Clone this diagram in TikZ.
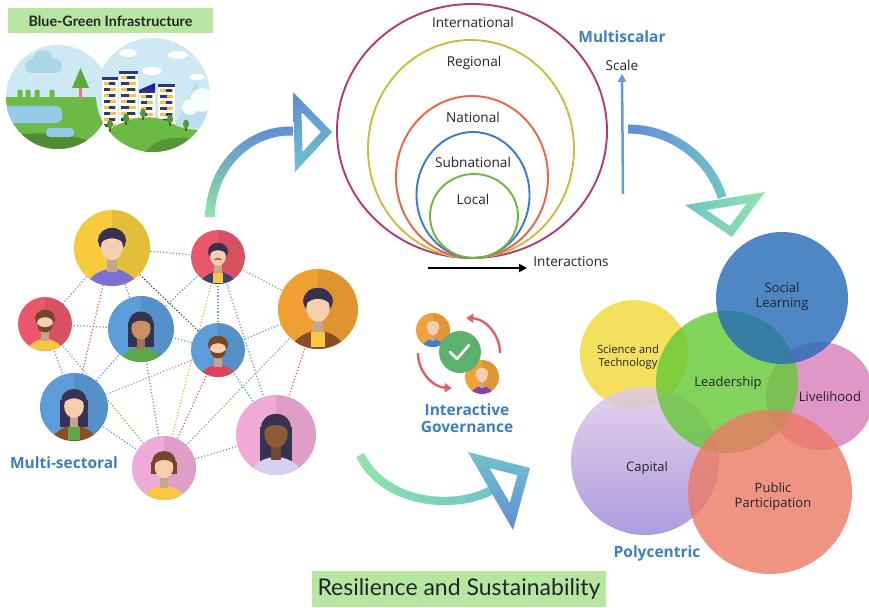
\documentclass[tikz,border=0pt]{standalone}
\usepackage{fontspec}
\setmainfont{Open Sans}
\newfontfamily\gillfont{Lato}
\usetikzlibrary{arrows.meta,positioning}
\definecolor{bannergreen}{RGB}{182,230,160}
\definecolor{tagblue}{RGB}{61,126,194}
\definecolor{scaleblue}{RGB}{96,156,214}
\definecolor{inkdark}{RGB}{35,35,45}
% rings
\definecolor{intl}{RGB}{178,58,122}
\definecolor{regl}{RGB}{200,190,62}
\definecolor{natl}{RGB}{234,98,78}
\definecolor{subn}{RGB}{58,122,200}
\definecolor{locl}{RGB}{112,182,64}
% flows
\definecolor{flowgreen}{RGB}{145,228,168}
\definecolor{flowteal}{RGB}{112,196,202}
\definecolor{flowblue}{RGB}{96,140,214}
\definecolor{swirlred}{RGB}{232,92,104}
\definecolor{tickgreen}{RGB}{92,178,108}
\definecolor{iconorange}{RGB}{240,162,58}
% petals
\definecolor{vsci}{RGB}{242,217,52}
\definecolor{vlead}{RGB}{98,200,52}
\definecolor{vsoc}{RGB}{35,105,182}
\definecolor{vliv}{RGB}{215,125,185}
\definecolor{vpub}{RGB}{236,120,100}
\definecolor{vcaptop}{RGB}{226,202,232}
\definecolor{vcapbot}{RGB}{158,140,218}
% people
\definecolor{bgyellow}{RGB}{246,204,62}
\definecolor{bgred}{RGB}{232,88,106}
\definecolor{bgorange}{RGB}{240,160,50}
\definecolor{bgblue}{RGB}{92,156,216}
\definecolor{bgpink}{RGB}{240,170,216}
\definecolor{hairdark}{RGB}{54,50,82}
\definecolor{hairbrown}{RGB}{118,70,40}
\definecolor{skinlight}{RGB}{248,206,176}
\definecolor{skintan}{RGB}{200,145,100}
\definecolor{skindark}{RGB}{140,92,55}
\definecolor{shirtpurple}{RGB}{124,112,210}
\definecolor{shirtnavy}{RGB}{66,66,104}
\definecolor{shirtbrown}{RGB}{140,76,36}
\definecolor{shirtyellow}{RGB}{246,200,66}
\definecolor{shirtgreen}{RGB}{92,168,72}
\definecolor{shirtred}{RGB}{224,68,88}
\definecolor{shirtlilac}{RGB}{214,208,240}
\definecolor{shirtblue}{RGB}{60,130,196}
\definecolor{shirtviolet}{RGB}{130,70,170}
\definecolor{lblue}{RGB}{90,150,210}
\definecolor{lred}{RGB}{220,90,100}
\definecolor{lgreen}{RGB}{120,180,90}
\definecolor{lyellow}{RGB}{200,190,60}
\definecolor{lblack}{RGB}{60,60,60}
\definecolor{lpink}{RGB}{220,120,170}
% landscape
\definecolor{sky}{RGB}{206,233,244}
\definecolor{cloudblue}{RGB}{170,214,234}
\definecolor{grass}{RGB}{108,186,70}
\definecolor{pond}{RGB}{146,204,232}
\definecolor{winyellow}{RGB}{246,196,66}
\definecolor{winnavy}{RGB}{48,56,112}
\tikzset{
  >={Triangle[length=8pt,width=8pt]},
  banner/.style={fill=bannergreen,inner sep=0pt,minimum height=25pt,
    font=\gillfont\bfseries\fontsize{14.3}{16}\selectfont,text=inkdark},
  tag/.style={font=\fontsize{13.6}{16}\selectfont,text=inkdark,align=center},
  keytag/.style={font=\bfseries\fontsize{15.5}{17}\selectfont,text=tagblue,align=center},
  vtag/.style={font=\fontsize{13}{15}\selectfont,text=inkdark,align=center},
  ring/.style={draw=#1,line width=1.9pt},
  link/.style={draw=#1,dotted,line width=1.2pt},
  petal/.style={fill=#1,fill opacity=0.8},
  swirl/.style={-{Triangle[length=7pt,width=9pt]},draw=swirlred,line width=2.4pt},
  % avatars (y grows downwards)
  pics/avatar/.style n args={5}{code={
    \fill[#1] (0,0) circle (1);
    \begin{scope}
      \clip (0,0) circle (1);
      \fill[black,opacity=0.07] (0,-1) rectangle (1,1);
      \fill[#2] (-0.4,-0.2) rectangle (0.4,#5);
      \fill[#2] (0,-0.2) ellipse (0.37 and 0.33);
      \fill[#4] (0,1.4) ellipse (0.8 and 0.85);
      \fill[#3!80!black] (-0.13,0.1) rectangle (0.13,0.62);
      \fill[#3] (0,-0.02) ellipse (0.29 and 0.34);
      \fill[#2] (-0.31,-0.12) .. controls (-0.3,-0.62) and (0.3,-0.62) .. (0.31,-0.12)
        .. controls (0.15,-0.3) and (-0.15,-0.3) .. cycle;
    \end{scope}
  }},
  pics/vest/.style={code={\fill[#1] (-0.17,0.58) rectangle (0.17,0.96);}},
  pics/beard/.style={code={
    \fill[#1] (-0.29,0.0) .. controls (-0.29,0.42) and (0.29,0.42) .. (0.29,0.0)
      .. controls (0.15,0.16) and (-0.15,0.16) .. cycle;
  }},
  pics/moustache/.style={code={
    \fill[#1] (-0.16,0.12) .. controls (-0.08,0.02) and (0.08,0.02) .. (0.16,0.12)
      .. controls (0.08,0.08) and (-0.08,0.08) .. cycle;
  }},
}
\begin{document}
\begin{tikzpicture}[x=1pt,y=-1pt]
  \fill[white] (0,0) rectangle (869,607);
  \useasboundingbox (0,0) rectangle (869,607);

  % blue-green infrastructure
  \node[banner,minimum width=205pt] (bgi) at (110.5,21) {Blue-Green Infrastructure};
  \begin{scope}
    \clip (58,97) circle (52);
    \fill[sky] (0,40) rectangle (115,155);
    \fill[cloudblue] (32,66) circle (7) (43,60) circle (10) (55,66) circle (7);
    \fill[cloudblue] (30,66) rectangle (58,73);
    \fill[grass] (0,97) rectangle (115,155);
    \foreach \px in {20,28,37,52} \fill[grass,rounded corners=1pt] (\px-2.5,90) rectangle (\px+2.5,98);
    \fill[grass!75!black] (0,138) .. controls (40,128) and (80,135) .. (115,150) -- (115,155) -- (0,155) -- cycle;
    \fill[pond,rounded corners=6pt] (-5,106) rectangle (62,123);
    \fill[pond,rounded corners=4pt] (46,128) rectangle (74,137);
    \fill[lred!80] (79,84) rectangle (82,99);
    \fill[grass!90!black] (80.5,68) -- (72,88) -- (89,88) -- cycle;
  \end{scope}
  \begin{scope}
    \clip (153,95) circle (57);
    \fill[sky] (90,30) rectangle (215,160);
    \fill[white] (128,53) ellipse (9 and 4) (178,55) ellipse (10 and 4) (152,71) ellipse (10 and 4) (197,77) ellipse (8 and 3);
    \fill[cloudblue!80] (175,125) -- (196,82) -- (215,110) -- (215,130) -- cycle;
    \fill[white!85!sky] (202,100) circle (12) (190,107) circle (8);
    \foreach \bx/\by/\bw in {102/77/16,119/71/19,139/90/16,158/84/17}{
      \fill[white] (\bx,\by) rectangle (\bx+\bw,140);
      \fill[winnavy] (\bx,\by) rectangle (\bx+\bw,\by+3);
      \foreach \row in {1,...,10}{
        \fill[winyellow] (\bx+2,\by+6*\row-1) rectangle (\bx+\bw-2,\by+6*\row+1.6);
        \fill[winnavy] ({\bx+2+mod(\row,2)*\bw/3},{\by+6*\row-1}) rectangle ({\bx+\bw/2+mod(\row,2)*\bw/3},{\by+6*\row+1.6});
      }
    }
    \fill[winnavy!60!blue] (139,90) -- (155,83) -- (155,90) -- cycle;
    \fill[grass] (96,140) .. controls (120,118) and (150,110) .. (175,125) .. controls (190,132) and (205,128) .. (215,135) -- (215,160) -- (96,160) -- cycle;
    \fill[grass!80!black] (140,160) .. controls (150,140) and (170,134) .. (195,140) -- (195,160) -- cycle;
    \foreach \tx/\ty in {110/124,126/118,143/113,170/119,186/124}{
      \fill[hairbrown] (\tx-0.8,\ty) rectangle (\tx+0.8,\ty+7);
      \fill[grass!80!black] (\tx,\ty) ellipse (3 and 4.5);
    }
  \end{scope}

  % flow arrows
  \shade[bottom color=flowgreen,top color=flowblue]
    (290,217) ++(180:84.5 and 90.5) arc[start angle=180,end angle=272,x radius=84.5,y radius=90.5]
    -- ++(0,9) arc[start angle=272,end angle=180,x radius=75.5,y radius=81.5] -- cycle;
  \shade[top color=flowblue,bottom color=flowteal,even odd rule]
    (293,92) -- (295,172) -- (332,132) -- cycle (301.5,112) -- (302.5,152) -- (321,132) -- cycle;
  \shade[left color=flowblue,right color=flowteal]
    (628,228) ++(270:103.5) arc[start angle=270,end angle=342,radius=103.5]
    -- ++(162:9) arc[start angle=342,end angle=270,radius=94.5] -- cycle;
  \shade[left color=flowteal,right color=flowgreen,even odd rule]
    (685,205) -- (765,192) -- (732,237) -- cycle (706.5,210) -- (746.5,203.5) -- (730,226) -- cycle;
  \shade[left color=flowgreen,right color=flowteal]
    (364,453) .. controls (388,501) and (455,505.5) .. (490,486)
    -- (494,494) .. controls (455,514.5) and (382,509) .. (356,457) -- cycle;
  \shade[top color=flowteal,bottom color=flowblue,even odd rule]
    (468,452) -- (530,468) -- (513,530) -- cycle (489.5,468) -- (517.4,475.2) -- (509.7,503) -- cycle;

  % multiscalar rings
  \draw[ring=intl] (472,131) ellipse (135 and 127);
  \draw[ring=regl] (471,149) ellipse (103 and 109);
  \draw[ring=natl] (472,177) ellipse (76 and 81);
  \draw[ring=subn] (473,195) ellipse (56.5 and 63);
  \draw[ring=locl] (474,216) ellipse (44 and 42);
  \node[tag] (intlt) at (473,22) {International};
  \node[tag] (reglt) at (474,63) {Regional};
  \node[tag] (natlt) at (473,117) {National};
  \node[tag] (subnt) at (473,162) {Subnational};
  \node[tag] (loclt) at (473,199) {Local};
  \coordinate (ia) at (428,268); \coordinate (ib) at (527,268);
  \draw[->,line width=2pt] (ia) -- (ib);
  \node[tag] (inter) at (571,262) {Interactions};
  \node[keytag] (msc) at (622,37) {Multiscalar};
  \node[tag] (scl) at (622,65) {Scale};
  \coordinate (sb) at (623,194);
  \draw[->,draw=scaleblue,line width=2.5pt] (sb) -- (scl.south);

  % multi-sectoral network
  \foreach \n/\px/\py in {p1/112/248,p2/218/257,p3/318/309,p4/45/324,p5/141/329,p6/218/350,p7/74/407,p8/276/435,p9/164/468}
    \coordinate (\n) at (\px,\py);
  \foreach \a/\b/\c in {p1/p2/lblue,p1/p4/lblue,p1/p7/lred,p1/p6/lblack,p1/p5/lblue,
      p2/p5/lblue,p2/p6/lblue,p2/p3/lgreen,p2/p9/lyellow,p2/p8/lblue,
      p4/p5/lblue,p4/p7/lblue,p4/p9/lgreen,p5/p9/lblue,p5/p7/lblue,p5/p6/lblue,
      p6/p3/lblue,p6/p8/lblue,p6/p9/lred,p7/p6/lpink,p7/p9/lblue,
      p3/p8/lred,p3/p9/lgreen,p8/p9/lblue}
    \draw[link=\c] (\a) -- (\b);
  \pic[scale=38] at (p1) {avatar={bgyellow}{hairdark}{skinlight}{shirtpurple}{-0.2}};
  \pic[scale=27] at (p2) {avatar={bgred}{hairdark}{skinlight}{shirtnavy}{-0.2}};
  \pic[scale=27] at (p2) {vest=shirtyellow}; \pic[scale=27] at (p2) {moustache=hairdark};
  \pic[scale=40] at (p3) {avatar={bgorange}{hairdark}{skinlight}{shirtbrown}{-0.2}};
  \pic[scale=40] at (p3) {vest=shirtyellow};
  \pic[scale=27] at (p4) {avatar={bgred}{hairbrown}{skinlight}{shirtyellow}{-0.2}};
  \pic[scale=27] at (p4) {beard=hairbrown};
  \pic[scale=33] at (p5) {avatar={bgblue}{hairdark}{skintan}{shirtgreen}{0.55}};
  \pic[scale=27] at (p6) {avatar={bgblue}{hairbrown}{skinlight}{shirtred}{-0.2}};
  \pic[scale=27] at (p6) {beard=hairbrown};
  \pic[scale=34] at (p7) {avatar={bgblue}{hairdark}{skinlight}{shirtbrown}{0.6}};
  \pic[scale=34] at (p7) {vest=shirtgreen};
  \pic[scale=40] at (p8) {avatar={bgpink}{hairdark}{skindark}{shirtlilac}{0.65}};
  \pic[scale=32] at (p9) {avatar={bgpink}{hairbrown}{skinlight}{shirtyellow}{0.2}};
  \node[keytag] (msec) at (64,463) {Multi-sectoral};

  % interactive governance
  \pic[scale=17] at (433,330) {avatar={iconorange}{skinlight}{skinlight}{shirtblue}{-0.2}};
  \pic[scale=17] at (482,377) {avatar={iconorange}{skinlight}{skinlight}{shirtviolet}{-0.2}};
  \fill[tickgreen] (460,352) circle (21);
  \draw[white,line width=2.6pt,line cap=round,line join=round] (450,352) -- (457,359) -- (469,345);
  \coordinate (sw1) at (500,353); \coordinate (sw2) at (418,353);
  \draw[swirl] (sw1) arc[start angle=0,end angle=-88,radius=35];
  \draw[swirl] (sw2) arc[start angle=180,end angle=92,radius=35];
  \node[keytag] (igov) at (467,418) {Interactive\\Governance};

  % polycentric petals
  \fill[petal=vsci] (634,354) circle (54);
  \shade[top color=vcaptop,bottom color=vcapbot,fill opacity=0.85] (645,461) circle (74);
  \fill[petal=vliv] (820,396) circle (54);
  \fill[petal=vlead] (727,382) circle (71);
  \fill[petal=vpub] (770,492) circle (82);
  \fill[petal=vsoc] (782,298) circle (66);
  \node[vtag] (soc) at (782,297) {Social\\Learning};
  \node[vtag,font=\fontsize{11.2}{13}\selectfont] (sci) at (628,357) {Science and\\Technology};
  \node[vtag] (lead) at (728,383) {Leadership};
  \node[vtag] (liv) at (830,397) {Livelihood};
  \node[vtag] (cap) at (647,468) {Capital};
  \node[vtag] (pub) at (773,497) {Public\\Participation};
  \node[keytag] (poly) at (657,553) {Polycentric};

  \node[banner,minimum width=294pt,minimum height=36pt,font=\gillfont\fontsize{23}{26}\selectfont] (res) at (459,589) {Resilience and Sustainability};
\end{tikzpicture}
\end{document}
